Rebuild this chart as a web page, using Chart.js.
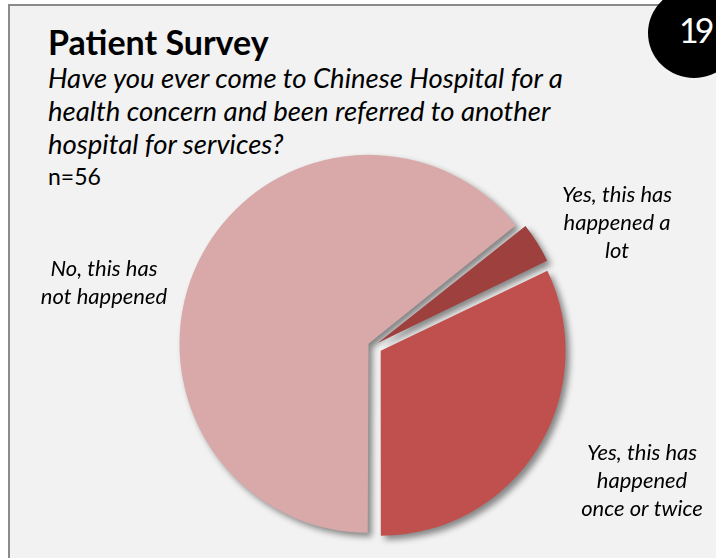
<!DOCTYPE html>
<html>
<head>
<meta charset="utf-8">
<script src="https://cdn.jsdelivr.net/npm/chart.js@4/dist/chart.umd.min.js"></script>
<style>
  html, body { margin: 0; padding: 0; background: #ffffff; }
  #frame {
    position: absolute; left: 8px; top: 4px; width: 720px; height: 570px;
    background: #f2f2f2; border-left: 2px solid #8a8a8a; border-top: 2px solid #8a8a8a;
  }
  #wrap { position: absolute; left: 0; top: 0; width: 716px; height: 558px; }
  .txt { position: absolute; font-family: Lato, "Open Sans", sans-serif; color: #000; white-space: nowrap; }
  #title { left: 48px; top: 24px; font-size: 34px; line-height: 36px; font-weight: bold; }
  #question { left: 48px; top: 61px; font-size: 27.5px; font-style: italic; line-height: 33px; }
  #n { left: 48px; top: 162px; font-size: 23px; }
  #badge {
    position: absolute; left: 648px; top: -12px; width: 92px; height: 90px;
    border-radius: 50%; background: #000;
  }
  #badgeNum { left: 679px; top: 9px; font-size: 34px; letter-spacing: -4px; color: #fff; }
</style>
</head>
<body>
<div id="frame"></div>
<div id="badge"></div>
<div class="txt" id="badgeNum">19</div>
<div class="txt" id="title">Patient Survey</div>
<div class="txt" id="question">Have you ever come to Chinese Hospital for a<br>health concern and been referred to another<br>hospital for services?</div>
<div class="txt" id="n">n=56</div>
<div id="wrap"><canvas id="pieChart" width="716" height="558"></canvas></div>
<script>
// survey answers (count of respondents, n = 56)
const answers = [
  ["No, this has", "not happened"],
  ["Yes, this has", "happened a", "lot"],
  ["Yes, this has", "happened", "once or twice"],
];
const counts = [36, 2, 18];
const colors = ["#d9a9a9", "#9e403e", "#c0504d"];

// where each data label sits (centre x, first baseline y)
const labelPos = [
  [104, 276],
  [617, 202],
  [642, 460],
];

// Chart.js shifts an arc by offset/4 * (2 - sin(angle)), so pick
// per-slice offsets that give every slice the same ~10px explosion
const explode = 10;
const sliceOffsets = counts.map((c) => {
  const total = counts.reduce((a, b) => a + b, 0);
  const angle = (c / total) * Math.PI * 2;
  const fix = 1 - Math.sin(Math.min(Math.PI, angle));
  return (explode * 4) / (1 + fix);
});

// soft drop shadow under the slices
const shadowPlugin = {
  id: "shadow",
  beforeDatasetsDraw(chart) {
    const ctx = chart.ctx;
    ctx.save();
    ctx.shadowColor = "rgba(0,0,0,0.45)";
    ctx.shadowBlur = 6;
    ctx.shadowOffsetX = 4;
    ctx.shadowOffsetY = 4;
  },
  afterDatasetsDraw(chart) {
    chart.ctx.restore();
  },
};

// outside labels, italic, centred
const labelPlugin = {
  id: "outsideLabels",
  afterDraw(chart) {
    const ctx = chart.ctx;
    ctx.save();
    ctx.fillStyle = "#000";
    ctx.textAlign = "center";
    ctx.textBaseline = "alphabetic";
    ctx.font = "italic 22px Lato, 'Open Sans', sans-serif";
    answers.forEach((lines, i) => {
      const [x, y] = labelPos[i];
      lines.forEach((line, j) => ctx.fillText(line, x, y + j * 28));
    });
    ctx.restore();
  },
};

new Chart(document.getElementById("pieChart"), {
  type: "pie",
  data: {
    labels: answers.map((a) => a.join(" ")),
    datasets: [
      {
        data: counts,
        backgroundColor: colors,
        borderWidth: 0,
        offset: sliceOffsets,
      },
    ],
  },
  options: {
    responsive: false,
    animation: false,
    rotation: 180,
    radius: 184,
    layout: {
      padding: { left: 30, right: 0, top: 134, bottom: 0 },
    },
    plugins: {
      legend: { display: false },
      tooltip: { enabled: false },
    },
  },
  plugins: [shadowPlugin, labelPlugin],
});
</script>
</body>
</html>
